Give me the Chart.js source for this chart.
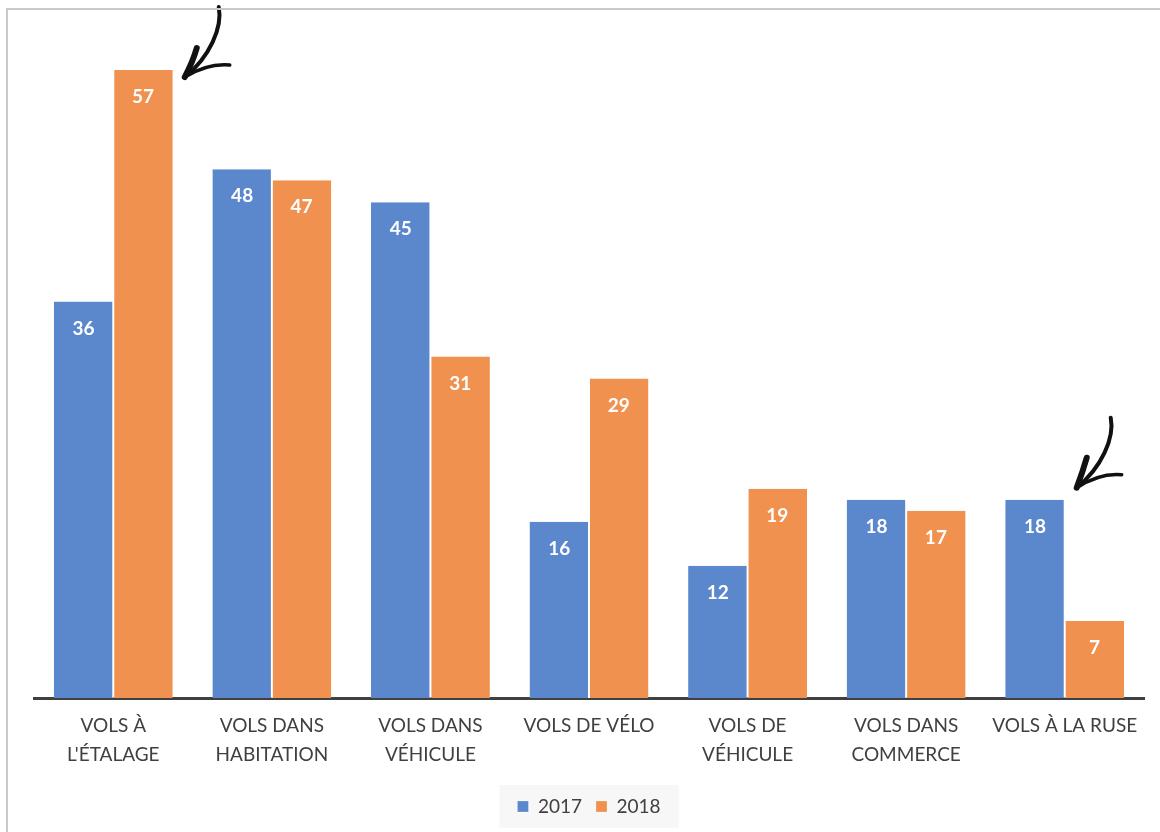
<!DOCTYPE html>
<html>
<head>
<meta charset="utf-8">
<script src="https://cdn.jsdelivr.net/npm/chart.js@4"></script>
<style>
  html, body { margin: 0; padding: 0; background: #fff; }
  #wrap { position: relative; width: 1160px; height: 832px; overflow: hidden; }
  #frame { position: absolute; left: 6px; top: 8px; width: 1170px; height: 840px; border: 2px solid #c9c9c9; box-sizing: border-box; pointer-events: none; }
  canvas { position: absolute; left: 0; top: 0; }
</style>
</head>
<body>
<div id="wrap">
  <canvas id="theftChart" width="1160" height="832"></canvas>
  <div id="frame"></div>
</div>
<script>
// Categories and values
const categories = [
    ['VOLS À', "L'ÉTALAGE"],
    ['VOLS DANS', 'HABITATION'],
    ['VOLS DANS', 'VÉHICULE'],
    ['VOLS DE VÉLO'],
    ['VOLS DE', 'VÉHICULE'],
    ['VOLS DANS', 'COMMERCE'],
    ['VOLS À LA RUSE']
];
const values2017 = [36, 48, 45, 16, 12, 18, 18];
const values2018 = [57, 47, 31, 29, 19, 17, 7];
const seriesLabels = ['2017', '2018'];

const FONT = 'Lato, "Open Sans", sans-serif';

// white numbers inside the top of each bar
const barLabels = {
    id: 'barLabels',
    afterDatasetsDraw(chart) {
        const ctx = chart.ctx;
        ctx.save();
        ctx.fillStyle = '#ffffff';
        ctx.font = 'bold 19px ' + FONT;
        ctx.textAlign = 'center';
        ctx.textBaseline = 'middle';
        chart.data.datasets.forEach((ds, i) => {
            chart.getDatasetMeta(i).data.forEach((bar, j) => {
                ctx.fillText(ds.data[j], bar.x, bar.y + 27);
            });
        });
        ctx.restore();
    }
};

// light grey box behind the legend
const legendBox = {
    id: 'legendBox',
    beforeDraw(chart) {
        const lg = chart.legend;
        if (!lg || !lg.legendItems.length) return;
        const hb = lg.legendHitBoxes;
        const first = hb[0], last = hb[hb.length - 1];
        const ctx = chart.ctx;
        ctx.save();
        ctx.fillStyle = '#f7f7f7';
        ctx.fillRect(first.left - 18, first.top - 12, (last.left + last.width) - first.left + 36, first.height + 24);
        ctx.restore();
    }
};

// hand drawn arrows pointing at the two highlighted bars
function drawArrow(ctx, tip, pts) {
    ctx.save();
    ctx.strokeStyle = '#111';
    ctx.lineCap = 'round';
    ctx.lineJoin = 'round';
    // shaft
    ctx.lineWidth = 4;
    ctx.beginPath();
    ctx.moveTo(pts.top[0], pts.top[1]);
    ctx.bezierCurveTo(pts.c1[0], pts.c1[1], pts.c2[0], pts.c2[1], tip[0], tip[1]);
    ctx.stroke();
    // barbs
    ctx.lineWidth = 6;
    ctx.beginPath();
    ctx.moveTo(tip[0], tip[1]);
    ctx.quadraticCurveTo(pts.lb[0] - 4, pts.lb[1] + 14, pts.lb[0], pts.lb[1]);
    ctx.stroke();
    ctx.lineWidth = 3.5;
    ctx.beginPath();
    ctx.moveTo(tip[0], tip[1]);
    ctx.quadraticCurveTo(pts.rb[0] - 22, pts.rb[1] - 2, pts.rb[0], pts.rb[1]);
    ctx.stroke();
    ctx.restore();
}

const arrows = {
    id: 'arrows',
    afterDraw(chart) {
        const ctx = chart.ctx;
        const b1 = chart.getDatasetMeta(1).data[0];
        const t1 = [b1.x + b1.width / 2 + 12, b1.y + 7];
        drawArrow(ctx, t1, {
            top: [t1[0] + 34, t1[1] - 70],
            c1: [t1[0] + 38, t1[1] - 50],
            c2: [t1[0] + 25, t1[1] - 20],
            lb: [t1[0] + 12, t1[1] - 29],
            rb: [t1[0] + 45, t1[1] - 12]
        });
        const b2 = chart.getDatasetMeta(0).data[6];
        const t2 = [b2.x + b2.width / 2 + 12, b2.y - 12];
        drawArrow(ctx, t2, {
            top: [t2[0] + 34, t2[1] - 70],
            c1: [t2[0] + 38, t2[1] - 50],
            c2: [t2[0] + 25, t2[1] - 20],
            lb: [t2[0] + 10, t2[1] - 30],
            rb: [t2[0] + 45, t2[1] - 13]
        });
    }
};

const ctx = document.getElementById('theftChart').getContext('2d');
const theftChart = new Chart(ctx, {
    type: 'bar',
    data: {
        labels: categories,
        datasets: [{
            label: seriesLabels[0],
            data: values2017,
            backgroundColor: '#5b87cc',
            borderColor: '#ffffff',
            borderWidth: { left: 0, right: 1, top: 0, bottom: 0 },
            borderSkipped: false
        }, {
            label: seriesLabels[1],
            data: values2018,
            backgroundColor: '#f0914f',
            borderColor: '#ffffff',
            borderWidth: { left: 1, right: 0, top: 0, bottom: 0 },
            borderSkipped: false
        }]
    },
    options: {
        responsive: false,
        animation: false,
        layout: { padding: { left: 34, right: 16, top: 37, bottom: 6 } },
        datasets: { bar: { categoryPercentage: 0.75, barPercentage: 1 } },
        scales: {
            x: {
                grid: { display: false, drawTicks: false },
                border: { color: '#404040', width: 3 },
                ticks: {
                    color: '#404040',
                    font: { family: FONT, size: 19, lineHeight: 1.5 },
                    padding: 14,
                    maxRotation: 0,
                    autoSkip: false
                }
            },
            y: {
                display: false,
                min: 0,
                max: 60
            }
        },
        plugins: {
            legend: {
                position: 'bottom',
                labels: {
                    boxWidth: 11,
                    boxHeight: 11,
                    color: '#404040',
                    font: { family: FONT, size: 19 },
                    padding: 14
                }
            },
            tooltip: { enabled: false }
        }
    },
    plugins: [legendBox, barLabels, arrows]
});
</script>
</body>
</html>
